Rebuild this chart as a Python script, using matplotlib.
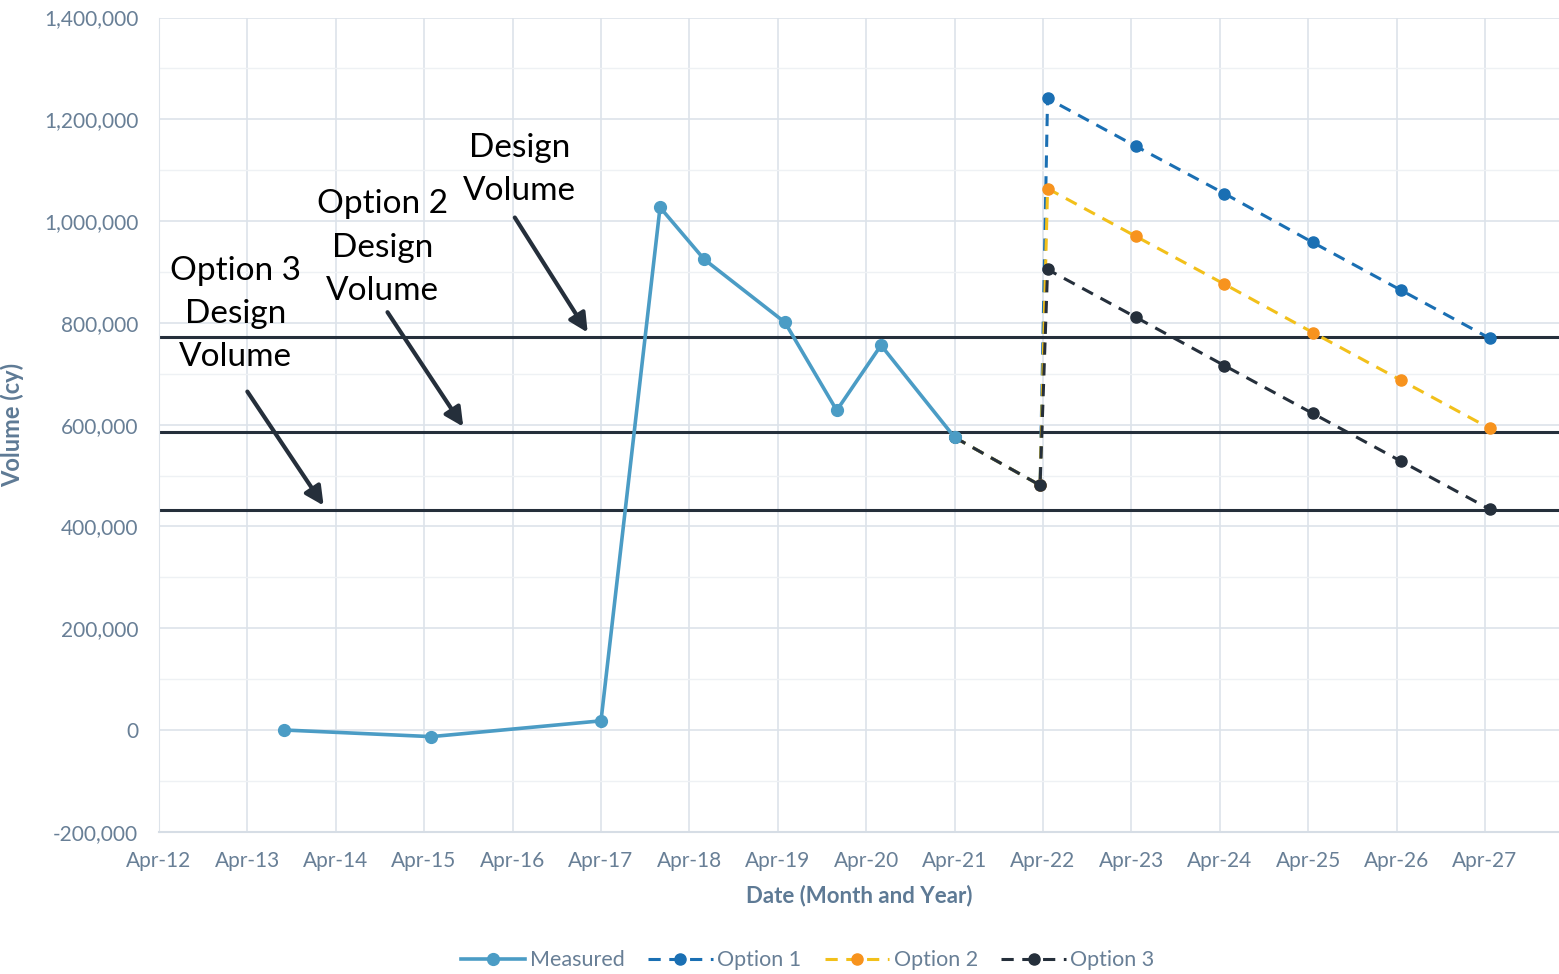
import pandas as pd
import matplotlib.pyplot as plt
import matplotlib.dates as mdates
from matplotlib.ticker import FuncFormatter, MultipleLocator

plt.rcParams['font.family'] = ['Lato', 'DejaVu Sans']

# measured volumes
measured_dates = pd.to_datetime(['2013-09-01', '2015-05-01', '2017-04-01', '2017-12-01',
                                 '2018-06-01', '2019-05-01', '2019-12-01', '2020-06-01',
                                 '2021-04-01'])
measured_vals = [0, -13000, 18000, 1027000, 925000, 801000, 628000, 756000, 575000]

# projected options
option_dates = pd.to_datetime(['2021-04-01', '2022-03-20', '2022-04-20', '2023-04-20',
                               '2024-04-20', '2025-04-20', '2026-04-20', '2027-04-20'])
option1_vals = [575000, 481000, 1241000, 1147000, 1054000, 958000, 864000, 770000]
option2_vals = [575000, 481000, 1064000, 970000, 876000, 781000, 687000, 593000]
option3_vals = [575000, 481000, 905000, 811000, 716000, 622000, 528000, 434000]

# design volumes
design_vol = 773000
option2_design = 586000
option3_design = 433000

tick_color = '#687f96'
dark = '#252f3b'

fig = plt.figure(figsize=(15.59, 9.74), dpi=100)
ax = fig.add_axes([0.102, 0.146, 0.898, 0.836])

ax.plot(measured_dates, measured_vals, color='#4b9cc5', lw=2.6, marker='o', ms=8.5,
        label='Measured', zorder=5)
ax.plot(option_dates, option1_vals, color='#1a6fb3', lw=2.2, ls=(0, (4, 2.8)), marker='o',
        ms=8, label='Option 1', zorder=3)
ax.plot(option_dates, option2_vals, color='#f2c01a', lw=2.2, ls=(0, (4, 2.8)), marker='o',
        ms=8, mfc='#f7931e', mec='#f7931e', label='Option 2', zorder=3)
ax.plot(option_dates, option3_vals, color=dark, lw=2.2, ls=(0, (4, 2.8)), marker='o',
        ms=8, label='Option 3', zorder=4)

for v in [design_vol, option2_design, option3_design]:
    ax.axhline(v, color=dark, lw=2.2, zorder=2)

# annotations
txt_kw = dict(fontsize=24, ha='center', va='center', color='black', linespacing=1.55)
ax.text(pd.Timestamp('2016-05-01'), 1102000, 'Design\nVolume', **txt_kw)
ax.text(pd.Timestamp('2014-10-10'), 948000, 'Option 2\nDesign\nVolume', **txt_kw)
ax.text(pd.Timestamp('2013-02-10'), 818000, 'Option 3\nDesign\nVolume', **txt_kw)

arrow_kw = dict(arrowstyle='-|>', lw=3, color=dark, mutation_scale=28, shrinkA=0, shrinkB=0)
ax.annotate('', xy=(pd.Timestamp('2017-02-05'), design_vol + 8000),
            xytext=(pd.Timestamp('2016-04-10'), 1007000), arrowprops=arrow_kw)
ax.annotate('', xy=(pd.Timestamp('2015-09-10'), option2_design + 10000),
            xytext=(pd.Timestamp('2014-11-01'), 821000), arrowprops=arrow_kw)
ax.annotate('', xy=(pd.Timestamp('2014-02-10'), option3_design + 8000),
            xytext=(pd.Timestamp('2013-04-01'), 665000), arrowprops=arrow_kw)

ax.set_xlim(pd.Timestamp('2012-04-01'), pd.Timestamp('2028-02-01'))
ax.set_ylim(-200000, 1400000)
ax.xaxis.set_major_locator(mdates.MonthLocator(bymonth=4, bymonthday=1))
ax.xaxis.set_major_formatter(mdates.DateFormatter('%b-%y'))
ax.yaxis.set_major_locator(MultipleLocator(200000))
ax.yaxis.set_minor_locator(MultipleLocator(100000))
ax.yaxis.set_major_formatter(FuncFormatter(lambda v, p: f'{v:,.0f}'))

ax.grid(which='major', color='#dde3ea', lw=1.2)
ax.grid(which='minor', axis='y', color='#eef1f4', lw=1.0)
ax.set_axisbelow(True)
for s in ['top', 'right']:
    ax.spines[s].set_visible(False)
ax.spines['left'].set_color('#dde3ea')
ax.spines['bottom'].set_color('#d6dde5')
ax.spines['bottom'].set_linewidth(1.5)
ax.tick_params(which='both', length=0, labelsize=15, colors=tick_color)
ax.tick_params(axis='x', pad=14)
ax.tick_params(axis='y', pad=15)

ax.set_xlabel('Date (Month and Year)', fontsize=16, fontweight='bold', color='#5e7a95', labelpad=10)
ax.set_ylabel('Volume (cy)', fontsize=17, fontweight='bold', color='#5e7a95', labelpad=14)

fig.legend(loc='lower center', ncol=4, frameon=False, fontsize=15.5, bbox_to_anchor=(0.518, -0.016),
           labelcolor=tick_color, handlelength=3.0, columnspacing=1.1, handletextpad=0.2)

fig.savefig('out.png', dpi=100)
